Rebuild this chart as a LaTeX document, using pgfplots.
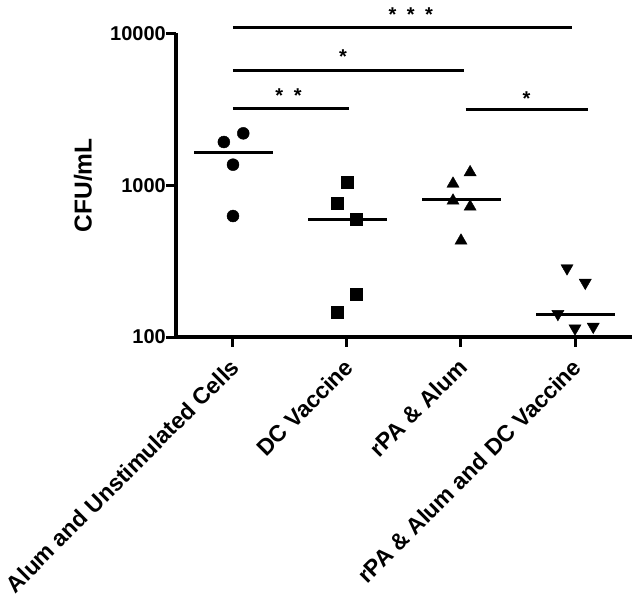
\documentclass[border=0pt]{standalone}
\usepackage{pgfplots}
\pgfplotsset{compat=1.18}
\usepackage{fontspec}
\setmainfont{Liberation Sans}

\begin{document}
\begin{tikzpicture}
\path[use as bounding box] (-176bp,-264bp) rectangle (463bp,337bp);
\begin{axis}[
  at={(0,0)}, anchor=south west,
  scale only axis, width=456bp, height=303.5bp,
  ymode=log, ymin=100, ymax=10000,
  xmin=-0.5, xmax=3.5,
  axis lines*=left,
  axis line style={line width=3.3bp, black},
  xtick={0,1,2,3},
  xticklabels={Alum and Unstimulated Cells, DC Vaccine, rPA \& Alum, rPA \& Alum and DC Vaccine},
  ytick={100,1000,10000}, yticklabels={100,1000,10000},
  yminorticks=false, xminorticks=false,
  tick align=outside, major tick length=10bp,
  every tick/.style={line width=3bp, black},
  yticklabel style={font=\bfseries\fontsize{20bp}{21bp}\selectfont, inner sep=1bp, xshift=1bp},
  xticklabel style={font=\bfseries\fontsize{23bp}{24bp}\selectfont, xshift=-4bp, yshift=-10bp, rotate=45, anchor=north east, inner sep=0pt},
  ylabel={CFU/mL},
  ylabel style={font=\bfseries\fontsize{24.5bp}{25bp}\selectfont, at={(axis description cs:-0.204,0.5)}, anchor=center},
  clip=false,
]
% data points
\addplot[only marks, mark=*, mark size=6bp, black] coordinates {(0.09,2198) (-0.08,1927) (0,1366) (0,627)};
\addplot[only marks, mark=square*, mark size=6bp, black] coordinates {(1,1055) (0.91,767) (1.08,596) (1.08,192) (0.91,146)};
\addplot[only marks, mark=triangle*, mark size=7bp, black] coordinates {(2.08,1217) (1.93,1023) (1.93,791) (2.08,722) (2.0,431)};
\addplot[only marks, mark=triangle*, mark options={rotate=180}, mark size=7bp, black] coordinates {(2.93,284) (3.09,228) (2.85,142) (3.0,114) (3.16,117)};
% means
\addplot[no marks, line width=3bp, black] coordinates {(-0.34,1648) (0.35,1648)};
\addplot[no marks, line width=3bp, black] coordinates {(0.66,596) (1.35,596)};
\addplot[no marks, line width=3bp, black] coordinates {(1.66,800) (2.35,800)};
\addplot[no marks, line width=3bp, black] coordinates {(2.66,140) (3.35,140)};
% significance bars
\addplot[no marks, line width=3bp, black] coordinates {(0,10990) (2.97,10990)};
\addplot[no marks, line width=3bp, black] coordinates {(0,5690) (2.03,5690)};
\addplot[no marks, line width=3bp, black] coordinates {(0,3214) (1.02,3214)};
\addplot[no marks, line width=3bp, black] coordinates {(2.04,3165) (3.11,3165)};
\tikzset{star/.style={font=\bfseries\fontsize{20bp}{21bp}\selectfont, anchor=center, inner sep=0pt, yshift=-4bp}}
\node[star] at (axis cs:1.56,14060) {*\hspace{10.5bp}*\hspace{10.5bp}*};
\node[star] at (axis cs:0.965,7470) {*};
\node[star] at (axis cs:0.487,4137) {*\hspace{10.5bp}*};
\node[star] at (axis cs:2.575,3935) {*};
\end{axis}
\end{tikzpicture}
\end{document}
